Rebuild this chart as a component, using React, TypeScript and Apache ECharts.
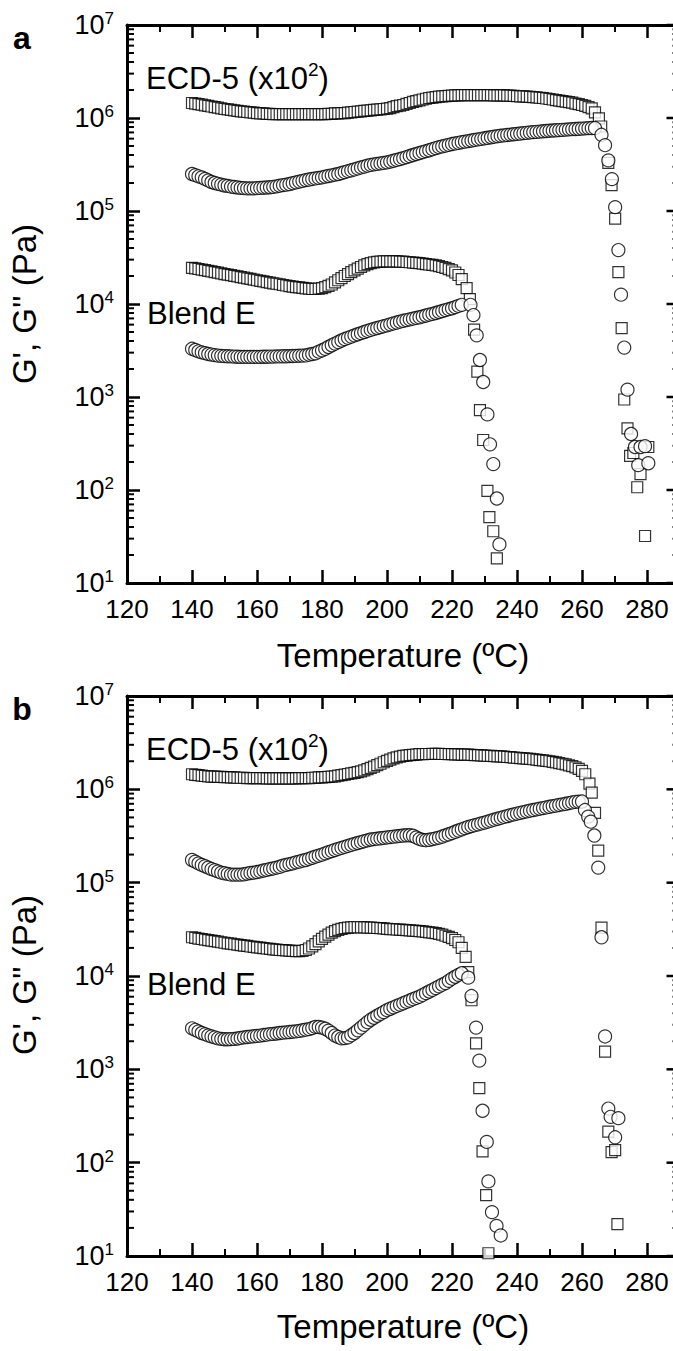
import React, { useEffect, useRef } from "react";
import * as echarts from "echarts";

// ---------- data ----------
// Dense part of every curve: one point per degree from T0; values in the given unit (Pa)
const T0 = 140;

// Panel a
const ecdA_Gp = [ // x 1e6 Pa (ECD-5 x10^2), G'
  1.45,1.43,1.41,1.39,1.37,1.35,1.33,1.31,1.29,1.27,
  1.25,1.24,1.22,1.21,1.19,1.18,1.17,1.16,1.15,1.14,
  1.13,1.12,1.12,1.11,1.11,1.10,1.10,1.10,1.10,1.10,
  1.10,1.10,1.10,1.10,1.10,1.10,1.10,1.10,1.10,1.10,
  1.10,1.10,1.11,1.11,1.12,1.12,1.13,1.13,1.14,1.15,
  1.16,1.17,1.18,1.19,1.20,1.21,1.22,1.23,1.24,1.25,
  1.26,1.28,1.31,1.34,1.36,1.38,1.42,1.45,1.49,1.52,
  1.55,1.58,1.61,1.64,1.66,1.68,1.70,1.71,1.72,1.73,
  1.74,1.75,1.75,1.76,1.76,1.76,1.76,1.76,1.76,1.76,
  1.76,1.76,1.76,1.75,1.75,1.75,1.75,1.74,1.74,1.73,
  1.72,1.71,1.71,1.70,1.69,1.68,1.67,1.65,1.64,1.62,
  1.60,1.58,1.56,1.54,1.52,1.50,1.48,1.46,1.43,1.41,
  1.38,1.35,1.31,1.27,
];
const ecdA_GpTail = [
  [264,1.15e6],[265.2,9.9e5],[265.9,8.1e5],[268.1,3.3e5],[269.1,1.9e5],[270.2,8.3e4],
  [271.2,2.2e4],[272.2,5.5e3],[273,940],[274,460],[274.8,233],[275.8,250],[277,107],
  [278,148],[279.4,32],[280.4,290],
];
const ecdA_Gpp = [ // x 1e5 Pa, G''
  2.50,2.43,2.36,2.30,2.21,2.13,2.05,2.00,1.96,1.92,
  1.88,1.86,1.83,1.81,1.79,1.77,1.76,1.75,1.75,1.75,
  1.76,1.77,1.78,1.79,1.80,1.82,1.84,1.87,1.90,1.92,
  1.95,1.99,2.03,2.07,2.11,2.15,2.18,2.21,2.24,2.27,
  2.30,2.34,2.38,2.42,2.46,2.50,2.56,2.62,2.68,2.74,
  2.80,2.87,2.94,3.00,3.07,3.13,3.17,3.21,3.25,3.29,
  3.33,3.40,3.47,3.54,3.62,3.70,3.80,3.90,4.00,4.10,
  4.20,4.30,4.40,4.50,4.62,4.75,4.85,4.95,5.05,5.15,
  5.25,5.33,5.41,5.49,5.57,5.65,5.73,5.81,5.89,5.97,
  6.05,6.13,6.21,6.29,6.37,6.45,6.51,6.57,6.63,6.69,
  6.75,6.81,6.87,6.93,6.99,7.05,7.10,7.15,7.20,7.25,
  7.30,7.34,7.38,7.42,7.46,7.50,7.54,7.58,7.62,7.66,
  7.70,7.74,7.78,7.80,7.80,
];
const ecdA_GppTail = [
  [266,6.6e5],[267.1,5.1e5],[268.1,3.5e5],[269.2,2.2e5],[270.2,1.1e5],[271.2,3.8e4],
  [272,1.26e4],[273,3.4e3],[274,1.2e3],[275.1,400],[276.3,290],[277.3,185],[278,290],
  [279.4,296],[280.4,194],
];
const blendA_Gp = [ // x 1e4 Pa
  2.45,2.41,2.38,2.34,2.31,2.27,2.24,2.20,2.17,2.13,
  2.10,2.07,2.04,2.01,1.98,1.95,1.92,1.89,1.86,1.83,
  1.80,1.77,1.75,1.72,1.70,1.67,1.65,1.63,1.60,1.58,
  1.56,1.54,1.52,1.51,1.49,1.47,1.46,1.45,1.45,1.46,
  1.48,1.52,1.57,1.62,1.71,1.80,1.90,2.00,2.10,2.20,
  2.30,2.40,2.50,2.60,2.68,2.75,2.80,2.84,2.86,2.87,
  2.88,2.88,2.87,2.87,2.86,2.85,2.83,2.81,2.79,2.77,
  2.75,2.72,2.69,2.66,2.63,2.60,2.55,2.50,2.44,2.37,
  2.30,2.18,2.05,1.85,
];
const blendA_GpTail = [
  [224.5,1.48e4],[225.5,1.13e4],[226.8,5.3e3],[227.8,1.87e3],[228.6,724],[229.6,345],
  [230.9,98],[231.5,51],[232.7,36],[233.8,18.4],
];
const blendA_Gpp = [ // x 1e3 Pa
  3.30,3.20,3.10,3.02,2.96,2.90,2.86,2.82,2.79,2.77,
  2.75,2.74,2.73,2.72,2.71,2.70,2.70,2.70,2.70,2.70,
  2.70,2.70,2.71,2.71,2.72,2.72,2.73,2.73,2.74,2.74,
  2.75,2.76,2.77,2.78,2.79,2.80,2.85,2.90,2.95,3.07,
  3.18,3.30,3.45,3.60,3.75,3.90,4.05,4.20,4.33,4.46,
  4.60,4.73,4.86,5.00,5.13,5.27,5.40,5.52,5.65,5.77,
  5.90,6.04,6.18,6.32,6.46,6.60,6.72,6.84,6.96,7.08,
  7.20,7.36,7.52,7.68,7.84,8.00,8.20,8.40,8.60,8.80,
  9.00,9.27,9.53,9.80,
];
const blendA_GppTail = [
  [225.7,9.8e3],[226.6,7.6e3],[227.6,4.6e3],[228.6,2.5e3],[229.6,1.45e3],[230.9,650],
  [231.7,310],[232.7,190],[233.8,81],[234.6,26],
];

// Panel b
const ecdB_Gp = [ // x 1e6 Pa
  1.45,1.43,1.42,1.40,1.39,1.38,1.37,1.37,1.36,1.36,
  1.35,1.35,1.34,1.34,1.33,1.33,1.33,1.32,1.32,1.32,
  1.32,1.32,1.32,1.31,1.31,1.31,1.31,1.31,1.31,1.31,
  1.31,1.31,1.31,1.32,1.32,1.32,1.32,1.33,1.33,1.34,
  1.34,1.35,1.36,1.37,1.38,1.40,1.42,1.44,1.46,1.48,
  1.50,1.53,1.56,1.60,1.65,1.70,1.75,1.82,1.88,1.95,
  2.02,2.08,2.15,2.20,2.24,2.28,2.30,2.32,2.34,2.36,
  2.38,2.38,2.39,2.39,2.40,2.40,2.40,2.39,2.39,2.38,
  2.38,2.37,2.37,2.36,2.36,2.35,2.34,2.33,2.32,2.31,
  2.30,2.29,2.28,2.27,2.26,2.25,2.24,2.22,2.21,2.19,
  2.18,2.16,2.15,2.13,2.12,2.10,2.08,2.06,2.04,2.02,
  2.00,1.97,1.94,1.91,1.88,1.85,1.81,1.77,1.72,1.66,
  1.58,1.45,
];
const ecdB_GpTail = [
  [262.3,1.15e6],[263,9.2e5],[264,5.6e5],[265,2.2e5],[266,3.3e4],[267.1,1.55e3],
  [268.1,215],[269.1,130],[270.2,136],[270.9,22],
];
const ecdB_Gpp = [ // x 1e5 Pa
  1.75,1.68,1.61,1.55,1.50,1.45,1.40,1.36,1.32,1.28,
  1.26,1.24,1.22,1.22,1.22,1.22,1.23,1.25,1.27,1.28,
  1.30,1.32,1.35,1.37,1.40,1.42,1.45,1.48,1.52,1.55,
  1.58,1.61,1.65,1.68,1.72,1.75,1.80,1.85,1.90,1.95,
  2.00,2.06,2.12,2.18,2.24,2.30,2.36,2.42,2.48,2.54,
  2.60,2.66,2.72,2.78,2.84,2.90,2.93,2.96,2.99,3.02,
  3.05,3.08,3.11,3.14,3.17,3.20,3.22,3.22,3.18,3.05,
  2.94,2.87,2.85,2.88,2.93,2.98,3.04,3.12,3.21,3.30,
  3.40,3.51,3.62,3.73,3.84,3.95,4.04,4.13,4.22,4.31,
  4.40,4.51,4.62,4.73,4.84,4.95,5.06,5.17,5.28,5.39,
  5.50,5.60,5.70,5.80,5.90,6.00,6.10,6.20,6.30,6.40,
  6.50,6.60,6.70,6.80,6.90,7.00,7.12,7.24,7.35,7.38,
  7.40,
];
const ecdB_GppTail = [
  [260.9,6.0e5],[261.9,5.1e5],[262.7,4.5e5],[263.8,3.2e5],[265,1.45e5],[266,2.6e4],
  [267.1,2.25e3],[268.1,380],[268.8,310],[270.2,187],[271.2,300],
];
const blendB_Gp = [ // x 1e4 Pa
  2.60,2.56,2.52,2.49,2.45,2.42,2.39,2.36,2.33,2.30,
  2.27,2.24,2.22,2.19,2.17,2.14,2.12,2.10,2.07,2.05,
  2.03,2.01,1.99,1.97,1.95,1.93,1.92,1.90,1.89,1.88,
  1.87,1.86,1.85,1.85,1.86,1.90,1.97,2.08,2.20,2.35,
  2.50,2.64,2.78,2.92,3.03,3.12,3.20,3.26,3.30,3.32,
  3.33,3.33,3.33,3.32,3.31,3.30,3.29,3.27,3.25,3.23,
  3.20,3.18,3.17,3.15,3.14,3.12,3.10,3.08,3.06,3.04,
  3.02,3.00,2.97,2.94,2.91,2.88,2.83,2.77,2.70,2.63,
  2.55,2.43,2.30,
];
const blendB_GpTail = [
  [223,2.0e4],[224.2,1.6e4],[225,1.1e4],[226,5.5e3],[227.4,1.9e3],[228.4,630],
  [229.4,132],[230.5,45],[231.2,10.7],
];
const blendB_Gpp = [ // x 1e3 Pa
  2.75,2.65,2.55,2.45,2.38,2.31,2.25,2.20,2.15,2.12,
  2.10,2.10,2.11,2.12,2.14,2.17,2.20,2.22,2.24,2.26,
  2.28,2.30,2.33,2.35,2.38,2.40,2.42,2.45,2.47,2.49,
  2.51,2.53,2.55,2.58,2.62,2.66,2.70,2.77,2.85,2.84,
  2.80,2.72,2.60,2.45,2.30,2.22,2.15,2.16,2.20,2.32,
  2.45,2.62,2.80,3.00,3.20,3.40,3.57,3.75,3.93,4.11,
  4.30,4.46,4.62,4.78,4.94,5.10,5.28,5.46,5.64,5.82,
  6.00,6.27,6.55,6.82,7.10,7.42,7.75,8.07,8.40,8.87,
  9.35,9.82,10.3,10.7,
];
const blendB_GppTail = [
  [225,9.6e3],[226,6.1e3],[227.4,2.8e3],[228.4,1.24e3],[229.4,360],[230.7,167],
  [231.2,63],[232.3,29.5],[233.7,21],[235,16.6],
];

// axis
const X_MIN = 120;
const X_MAX = 300;
const X_STEP = 20;
const X_EDGE = 290; // right frame of the plot (just past the page edge)
const Y_MIN = 10;
const Y_MAX = 1e7;
const MINOR_MULT = [2, 3, 4, 5, 6, 7, 8, 9];
const DECADES = [1, 2, 3, 4, 5, 6];

const FONT = "'Liberation Sans', Arial, Helvetica, sans-serif";

function pts(vals: number[], unit: number, tail: number[][]) {
  return [...vals.map((v, i) => [T0 + i, v * unit]), ...tail];
}

function tickData() {
  const out: number[][] = [];
  for (const d of DECADES) {
    for (const m of MINOR_MULT) out.push([X_MIN, m * Math.pow(10, d), 0]);
  }
  for (let d = 1; d <= 7; d++) out.push([X_MIN, Math.pow(10, d), 1]);
  return out;
}

const GRIDS = [
  { left: 127, top: 25, width: 585, height: 558, outerBoundsMode: "none", containLabel: false },
  { left: 127, top: 696, width: 585, height: 560, outerBoundsMode: "none", containLabel: false },
];

export default function App() {
  const ref = useRef<HTMLDivElement>(null);
  useEffect(() => {
    if (!ref.current) return;
    const chart = echarts.init(ref.current, undefined, { renderer: "svg" });

    const xAxis: any[] = [];
    const yAxis: any[] = [];
    [0, 1].forEach((g) => {
      ["bottom", "top"].forEach((pos) => {
        xAxis.push({
          type: "value",
          gridIndex: g,
          position: pos,
          min: X_MIN,
          max: X_MAX,
          interval: X_STEP,
          axisLine: { show: true, onZero: false, lineStyle: { color: "#000", width: 3 } },
          axisTick: { show: true, inside: true, length: 13, lineStyle: { color: "#000", width: 2.5 } },
          minorTick: { show: true, splitNumber: 2, length: 7, lineStyle: { color: "#000", width: 2 } },
          splitLine: { show: false },
          minorSplitLine: { show: false },
          axisLabel: {
            show: pos === "bottom",
            fontSize: 26,
            color: "#000",
            fontFamily: FONT,
            margin: 13,
            showMaxLabel: false,
          },
        });
      });
      yAxis.push({
        type: "log",
        logBase: 10,
        gridIndex: g,
        min: Y_MIN,
        max: Y_MAX,
        splitNumber: 6,
        position: "left",
        axisLine: { show: true, lineStyle: { color: "#000", width: 3 } },
        axisTick: { show: true, inside: true, length: 13, lineStyle: { color: "#000", width: 2.5 } },
        splitLine: { show: false },
        axisLabel: {
          margin: 13,
          formatter: (v: number) => `{b|10}{s|${Math.round(Math.log10(v))}}`,
          rich: {
            b: { fontSize: 27, color: "#000", fontFamily: FONT, lineHeight: 30 },
            s: { fontSize: 17, color: "#000", fontFamily: FONT, verticalAlign: "top", lineHeight: 30 },
          },
        },
      });
    });

    const sq = { color: "#fff", borderColor: "#000", borderWidth: 1.2 };
    const mk = (name: string, g: number, data: number[][], circle: boolean) => ({
      name,
      type: "scatter",
      xAxisIndex: g * 2,
      yAxisIndex: g,
      data,
      symbol: circle ? "circle" : "rect",
      symbolSize: circle ? 13 : 11,
      itemStyle: sq,
      silent: true,
    });

    const ticks = tickData();
    const tickSeries = (g: number) => ({
      type: "custom",
      xAxisIndex: g * 2,
      yAxisIndex: g,
      data: ticks,
      encode: { x: 0, y: 1 },
      silent: true,
      z: 10,
      clip: false,
      renderItem: (_p: any, api: any) => {
        const v = api.value(1);
        const major = api.value(2) === 1;
        const l = api.coord([X_MIN, v]);
        const r = api.coord([X_EDGE, v]);
        const len = major ? 13 : 7;
        const w = major ? 2.5 : 2;
        const children: any[] = [
          { type: "line", shape: { x1: r[0] - len, y1: r[1], x2: r[0], y2: r[1] }, style: { stroke: "#000", lineWidth: w } },
        ];
        if (!major) {
          children.push({ type: "line", shape: { x1: l[0], y1: l[1], x2: l[0] + len, y2: l[1] }, style: { stroke: "#000", lineWidth: w } });
        }
        return { type: "group", children };
      },
    });

    const series: any[] = [
      mk("ECD-5 G' (a)", 0, pts(ecdA_Gp, 1e6, ecdA_GpTail), false),
      mk("Blend E G' (a)", 0, pts(blendA_Gp, 1e4, blendA_GpTail), false),
      mk("ECD-5 G'' (a)", 0, pts(ecdA_Gpp, 1e5, ecdA_GppTail), true),
      mk("Blend E G'' (a)", 0, pts(blendA_Gpp, 1e3, blendA_GppTail), true),
      mk("ECD-5 G' (b)", 1, pts(ecdB_Gp, 1e6, ecdB_GpTail), false),
      mk("Blend E G' (b)", 1, pts(blendB_Gp, 1e4, blendB_GpTail), false),
      mk("ECD-5 G'' (b)", 1, pts(ecdB_Gpp, 1e5, ecdB_GppTail), true),
      mk("Blend E G'' (b)", 1, pts(blendB_Gpp, 1e3, blendB_GppTail), true),
      tickSeries(0),
      tickSeries(1),
    ];

    const txt = (text: string, x: number, y: number, extra: any = {}) => ({
      type: "text",
      x,
      y,
      silent: true,
      style: {
        text,
        fill: "#000",
        fontFamily: FONT,
        fontSize: 31,
        textAlign: "left",
        textVerticalAlign: "middle",
        ...extra,
      },
    });
    const ecdRich = {
      m: { fontSize: 31, fontFamily: FONT, color: "#000", lineHeight: 36 },
      s: { fontSize: 19, fontFamily: FONT, color: "#000", verticalAlign: "top", lineHeight: 36 },
    };

    const graphic: any[] = [];
    [0, 671].forEach((dy, i) => {
      graphic.push(txt(i === 0 ? "a" : "b", 22, 38 + dy, { fontWeight: "bold", fontSize: 32, textAlign: "center" }));
      graphic.push(txt("{m|ECD-5 (x10}{s|2}{m|)}", 146, 78 + dy, { rich: ecdRich }));
      graphic.push(txt("Blend E", 147, 313 + dy));
      graphic.push(txt("Temperature (ºC)", 403, 655 + dy, { textAlign: "center", fontSize: 33 }));
      graphic.push({
        type: "text",
        x: 24,
        y: 304 + dy,
        rotation: Math.PI / 2,
        silent: true,
        style: {
          text: "G', G'' (Pa)",
          fill: "#000",
          fontFamily: FONT,
          fontSize: 33,
          textAlign: "center",
          textVerticalAlign: "middle",
        },
      });
    });

    chart.setOption({
      animation: false,
      backgroundColor: "#fff",
      grid: GRIDS,
      xAxis,
      yAxis,
      series,
      graphic,
    });
    return () => chart.dispose();
  }, []);

  return (
    <div
      ref={ref}
      style={{ position: "absolute", left: 0, top: 0, width: 673, height: 1351, overflow: "hidden" }}
    />
  );
}
